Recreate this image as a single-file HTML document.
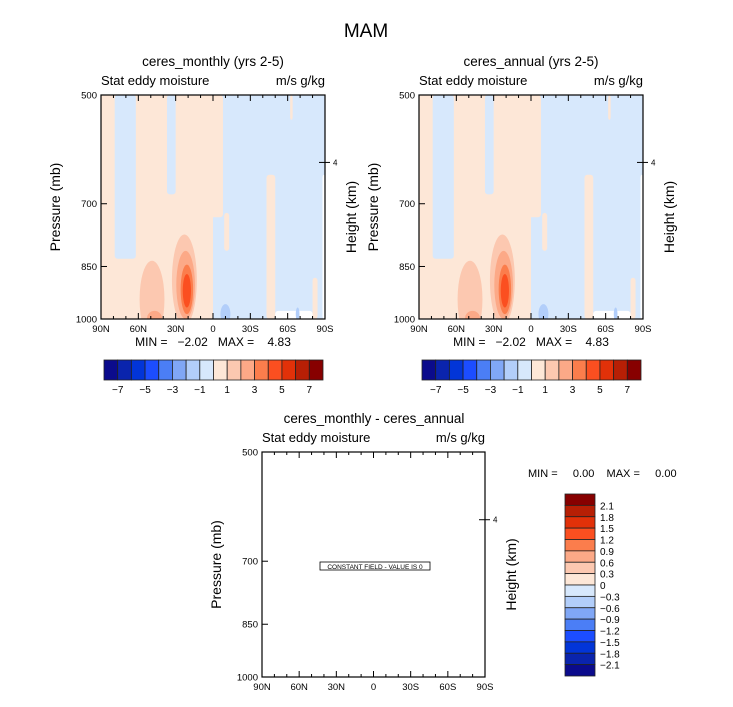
<!DOCTYPE html>
<html><head><meta charset="utf-8"><style>
body{margin:0;background:#fff}
svg text{font-family:"Liberation Sans",sans-serif;fill:#000;white-space:pre}
</style></head><body>
<svg id="fig" width="733" height="702" viewBox="0 0 733 702" xmlns="http://www.w3.org/2000/svg">
<text x="366" y="37" font-size="19" text-anchor="middle">MAM</text>
</svg>
<script>
const palette=["#0b0b8c","#0a24ad","#0235d8","#1c4dff","#4b7ef6","#80a7f6","#b2cefa","#d7e8fc","#fde7d7","#fcc8b0","#fca987","#fb7d4c","#fb4f20","#e23109","#b71f05","#870000"];
const topLabels=["−7","−5","−3","−1","1","3","5","7"];
const diffLabels=["2.1","1.8","1.5","1.2","0.9","0.6","0.3","0","−0.3","−0.6","−0.9","−1.2","−1.5","−1.8","−2.1"];
const xTickVals=[90,60,30,0,-30,-60,-90];
const xTickLabels=["90N","60N","30N","0","30S","60S","90S"];
const pTicks=[500,700,850,1000];
// rectangular regions: [lat1, lat2, p1, p2, paletteIndex]
const rects=[
 [90,0,500,1000,8],[0,-90,500,1000,7],
 [79,62,500,830,7],[37,30,500,680,7],
 [2,-8,500,730,8],[-9,-13,720,810,8],[-43,-50,640,1000,8],[-62,-64,500,540,8],[-80,-84,880,1000,8],
 [-50,-80,975,1000,-1],[-88,-90,640,1000,-1]
];
// ellipses: [latCenter, pCenter, latHalf, pTop, pBottom, paletteIndex]
const ellipses=[
 [49,920,10,835,1060,9],[47,995,6,975,1020,10],
 [23,890,10,770,1020,9],[22,900,7.5,810,1000,10],[21,905,5,845,985,11],[21,905,3.3,870,965,12],
 [-10,985,4,955,1015,6],[-68,985,1.5,965,1005,6]
];
const svg=document.getElementById('fig');
const NS="http://www.w3.org/2000/svg";
function el(t,a,p){const e=document.createElementNS(NS,t);for(const k in a)e.setAttribute(k,a[k]);(p||svg).appendChild(e);return e;}
function txt(x,y,s,size,anchor,p){const e=el('text',{x:x,y:y,'font-size':size,'text-anchor':anchor||'middle'},p);e.textContent=s;return e;}
function panel(L,T,W,H,title,filled,name){
 const g=el('g',{});
 
 
 const X=lat=>L+(90-lat)/180*W;
 const Y=p=>T+H-Math.log(1000/p)/Math.log(2)*H;
 const cp=el('clipPath',{id:name+'-clip'},g);el('rect',{x:L,y:T,width:W,height:H},cp);
 const f=el('g',{'clip-path':'url(#'+name+'-clip)'},g);
 if(filled){
  rects.forEach(r=>{const c=r[4]<0?'#fff':palette[r[4]];
   const e=el('rect',{x:X(r[0]),y:Y(r[2]),width:X(r[1])-X(r[0]),height:Y(r[3])-Y(r[2]),fill:c,rx:3},f);
   
   });
  ellipses.forEach(e0=>{const y1=Y(e0[3]),y2=Y(e0[4]);
   const e=el('ellipse',{cx:X(e0[0]),cy:(y1+y2)/2,rx:X(90-e0[2])-X(90),ry:(y2-y1)/2,fill:palette[e0[5]]},f);
   
   });
 }
 el('rect',{x:L,y:T,width:W,height:H,fill:'none',stroke:'#000','stroke-width':1.2},g);
 for(let lat=90;lat>=-90;lat-=10){const x=X(lat),len=lat%30===0?6:3;
  el('line',{x1:x,y1:T,x2:x,y2:T+len,stroke:'#000'},g);el('line',{x1:x,y1:T+H,x2:x,y2:T+H-len,stroke:'#000'},g);}
 xTickVals.forEach((v,i)=>{const t=txt(X(v),T+H+13,xTickLabels[i],9.5,'middle',g);
  });
 pTicks.forEach(p=>{el('line',{x1:L,y1:Y(p),x2:L+6,y2:Y(p),stroke:'#000'},g);
  const t=txt(L-4,Y(p)+3.5,String(p),9.5,'end',g);
  });
 const y4=Y(616);el('line',{x1:L+W,y1:y4,x2:L+W-6,y2:y4,stroke:'#000'},g);el('line',{x1:L+W,y1:y4,x2:L+W+5,y2:y4,stroke:'#000'},g);
 txt(L+W+8,y4+3,'4',8,'start',g);
 let t=txt(L+112,T-29,title,13.5,'middle',g);
 t=txt(L,T-10,'Stat eddy moisture',13,'start',g);
 t=txt(L+W,T-10,'m/s g/kg',13,'end',g);
 t=el('text',{x:0,y:0,'font-size':14,'text-anchor':'middle',transform:`translate(${L-41},${T+H/2}) rotate(-90)`},g);t.textContent='Pressure (mb)';
 
 t=el('text',{x:0,y:0,'font-size':14,'text-anchor':'middle',transform:`translate(${L+W+31},${T+H/2+10}) rotate(-90)`},g);t.textContent='Height (km)';
 
 return {X,Y};
}
function hbar(L,T,W,H,name){
 const g=el('g',{});
 const bw=W/palette.length;
 palette.forEach((c,i)=>{const r=el('rect',{x:L+i*bw,y:T,width:bw,height:H,fill:c,stroke:'#222','stroke-width':0.8},g);
  });
 topLabels.forEach((s,i)=>{txt(L+bw*(1+2*i),T+H+13,s,10,'middle',g);});
}
panel(101,95,224,224,'ceres_monthly (yrs 2-5)',true,'panel-monthly');
let m=txt(213,346,'MIN =   −2.02   MAX =    4.83',12);
hbar(104,360,219,20,'colorbar-monthly');
panel(419,95,224,224,'ceres_annual (yrs 2-5)',true,'panel-annual');
m=txt(531,346,'MIN =   −2.02   MAX =    4.83',12);
hbar(422,360,219,20,'colorbar-annual');
panel(262,452,223,225,'ceres_monthly - ceres_annual',false,'panel-diff');
el('rect',{x:320,y:562,width:110,height:8,fill:'#fff',stroke:'#000','stroke-width':0.8});
txt(375,569,'CONSTANT FIELD - VALUE IS 0',6.5);
m=txt(528,477,'MIN =     0.00    MAX =     0.00',11,'start');
const vg=el('g',{});
const bh=182/16;
palette.slice().reverse().forEach((c,i)=>{const r=el('rect',{x:565,y:494+i*bh,width:30,height:bh,fill:c,stroke:'#222','stroke-width':0.8},vg);
 });
diffLabels.forEach((s,i)=>{txt(600,494+bh*(i+1)+4,s,10,'start',vg);});
</script>
</body></html>
